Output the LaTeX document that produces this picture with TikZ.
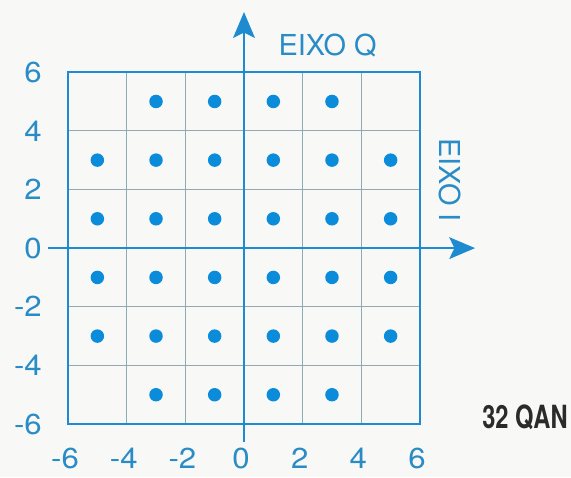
\documentclass[tikz,border=0pt]{standalone}
\usepackage{fontspec}
\setmainfont{TeX Gyre Heros}
\usetikzlibrary{arrows.meta}
\definecolor{qblue}{HTML}{1E8BD0}
\definecolor{dotblue}{HTML}{0B8CDB}
\definecolor{lblblue}{HTML}{2A8CC6}
\definecolor{gridgray}{HTML}{8FA9B5}
\definecolor{paper}{HTML}{F8F9F7}
\definecolor{inkgray}{HTML}{2B2B2B}

\begin{document}
\begin{tikzpicture}[
  >={Stealth[length=25pt, width=21pt, inset=5pt]},
  axis/.style={->, qblue, line width=2.6pt},
  frame/.style={qblue, line width=2.6pt},
  cell/.style={gridgray, line width=0.8pt},
  tick/.style={lblblue, inner sep=1pt, xscale=1.08, font=\fontsize{28}{30}\selectfont},
  axlbl/.style={lblblue, font=\fontsize{28}{30}\selectfont},
]

% ══════════════════════════════════════════════════════
% Background
% ══════════════════════════════════════════════════════
\fill[paper] (-8.32,-7.81) rectangle (11.15,8.46);
\useasboundingbox (-8.32,-7.81) rectangle (11.15,8.46);

% ══════════════════════════════════════════════════════
% Grid and frame
% ══════════════════════════════════════════════════════
\draw[cell] (-6,-6) grid[step=2] (6,6);
\draw[frame] (-6,-6) rectangle (6,6);

% ══════════════════════════════════════════════════════
% Axes
% ══════════════════════════════════════════════════════
\draw[axis] (-6.68,0) -- (7.88,0);
\draw[axis] (0,-6.61) -- (0,8.05);

\node[axlbl] (eixoq) at (2.85,6.92) {EIXO Q};
\node[axlbl, rotate=-90] (eixoi) at (7.02,2.32) {EIXO I};

% ══════════════════════════════════════════════════════
% Tick labels
% ══════════════════════════════════════════════════════
\foreach \t in {-6,-4,...,6}{
  \node[tick, anchor=east] (ytick\t) at (-6.85,\t) {\t};
  \node[tick] (xtick\t) at (\t-0.1,-7.18) {\t};
}

% ══════════════════════════════════════════════════════
% Constellation points (6x6 minus the four corners)
% ══════════════════════════════════════════════════════
\foreach \qx in {-5,-3,...,5}{
  \foreach \qy in {-5,-3,...,5}{
    \pgfmathtruncatemacro{\corner}{and(abs(\qx)==5, abs(\qy)==5)}
    \ifnum\corner=0
      \fill[dotblue] (\qx,\qy) circle (0.23);
    \fi
  }
}

% ══════════════════════════════════════════════════════
% Caption
% ══════════════════════════════════════════════════════
\node[inkgray, font=\fontsize{31}{33}\selectfont\bfseries, xscale=0.74]
  (qam) at (9.58,-5.76) {32 QAN};

\end{tikzpicture}
\end{document}
